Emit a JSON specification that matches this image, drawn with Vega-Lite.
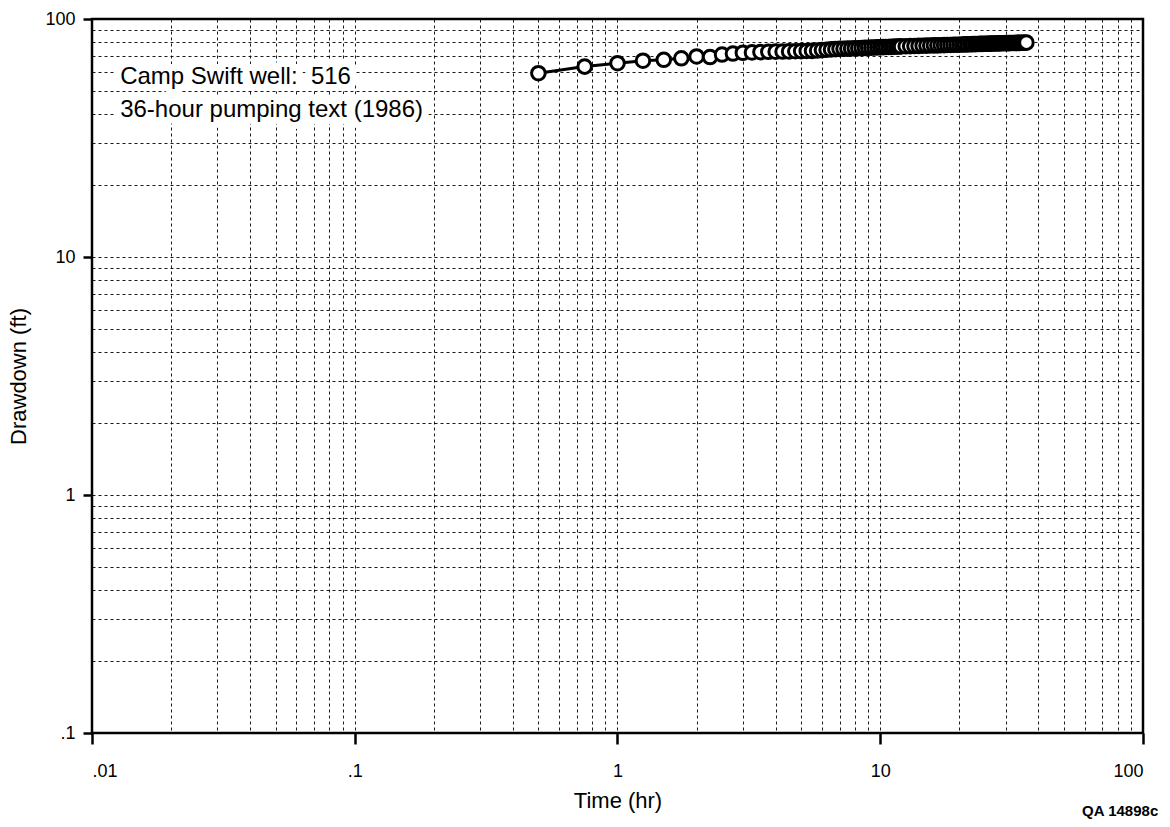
{
  "$schema": "https://vega.github.io/schema/vega-lite/v6.json",
  "width": 1051,
  "height": 714,
  "autosize": "none",
  "padding": {"left": 92, "top": 19, "right": 27, "bottom": 94},
  "background": "white",
  "config": {
    "font": "Liberation Sans",
    "view": {"stroke": "black", "strokeWidth": 2.5},
    "axis": {
      "domain": false,
      "grid": true,
      "gridColor": "black",
      "gridDash": [3, 3],
      "gridWidth": 1,
      "gridOpacity": 0.9,
      "tickColor": "black",
      "tickWidth": 2.5,
      "labelColor": "black",
      "labelFont": "Liberation Sans",
      "labelFontSize": 18,
      "labelOverlap": false,
      "titleFont": "Liberation Sans",
      "titleFontSize": 22,
      "titleFontWeight": "normal",
      "titleColor": "black"
    }
  },
  "title": {
    "text": "QA 14898c",
    "orient": "bottom",
    "anchor": "end",
    "fontSize": 15,
    "fontWeight": "bold",
    "font": "Liberation Sans",
    "color": "black",
    "offset": -7,
    "dx": 14
  },
  "datasets": {
    "pts": [
      {"t": 0.5, "d": 59.2}, {"t": 0.75, "d": 63.1}, {"t": 1.0, "d": 65.2}, {"t": 1.25, "d": 66.8},
      {"t": 1.5, "d": 67.4}, {"t": 1.75, "d": 68.4}, {"t": 2.0, "d": 69.6}, {"t": 2.25, "d": 69.2},
      {"t": 2.5, "d": 70.9}, {"t": 2.75, "d": 71.6}, {"t": 3.0, "d": 72.1}, {"t": 3.25, "d": 72.4},
      {"t": 3.5, "d": 72.6}, {"t": 3.75, "d": 72.8}, {"t": 4.0, "d": 72.9}, {"t": 4.25, "d": 73.0},
      {"t": 4.5, "d": 73.1}, {"t": 4.75, "d": 73.2}, {"t": 5.0, "d": 73.3}, {"t": 5.25, "d": 73.4},
      {"t": 5.5, "d": 73.5}, {"t": 5.75, "d": 73.7}, {"t": 6.0, "d": 74.0}, {"t": 6.25, "d": 74.3},
      {"t": 6.5, "d": 74.5}, {"t": 6.75, "d": 74.7}, {"t": 7.0, "d": 74.9}, {"t": 7.25, "d": 75.0},
      {"t": 7.5, "d": 75.1}, {"t": 7.75, "d": 75.2}, {"t": 8.0, "d": 75.3}, {"t": 8.25, "d": 75.4},
      {"t": 8.5, "d": 75.5}, {"t": 8.75, "d": 75.6}, {"t": 9.0, "d": 75.7}, {"t": 9.25, "d": 75.8},
      {"t": 9.5, "d": 75.9}, {"t": 9.75, "d": 76.0}, {"t": 10.0, "d": 76.1}, {"t": 10.25, "d": 76.2},
      {"t": 10.5, "d": 76.3}, {"t": 10.75, "d": 76.3}, {"t": 11.0, "d": 76.4}, {"t": 11.25, "d": 76.5},
      {"t": 11.5, "d": 76.6}, {"t": 11.75, "d": 76.6}, {"t": 12.0, "d": 76.7}, {"t": 12.5, "d": 76.8},
      {"t": 13.0, "d": 76.9}, {"t": 13.5, "d": 77.0}, {"t": 14.0, "d": 77.1}, {"t": 14.5, "d": 77.2},
      {"t": 15.0, "d": 77.3}, {"t": 15.5, "d": 77.4}, {"t": 16.0, "d": 77.5}, {"t": 16.5, "d": 77.5},
      {"t": 17.0, "d": 77.6}, {"t": 17.5, "d": 77.7}, {"t": 18.0, "d": 77.8}, {"t": 18.5, "d": 77.8},
      {"t": 19.0, "d": 77.9}, {"t": 19.5, "d": 78.0}, {"t": 20.0, "d": 78.0}, {"t": 20.5, "d": 78.1},
      {"t": 21.0, "d": 78.2}, {"t": 21.5, "d": 78.2}, {"t": 22.0, "d": 78.3}, {"t": 22.5, "d": 78.4},
      {"t": 23.0, "d": 78.4}, {"t": 23.5, "d": 78.5}, {"t": 24.0, "d": 78.6}, {"t": 24.5, "d": 78.6},
      {"t": 25.0, "d": 78.7}, {"t": 25.5, "d": 78.7}, {"t": 26.0, "d": 78.8}, {"t": 26.5, "d": 78.8},
      {"t": 27.0, "d": 78.9}, {"t": 27.5, "d": 78.9}, {"t": 28.0, "d": 79.0}, {"t": 28.5, "d": 79.0},
      {"t": 29.0, "d": 79.1}, {"t": 29.5, "d": 79.1}, {"t": 30.0, "d": 79.2}, {"t": 30.5, "d": 79.2},
      {"t": 31.0, "d": 79.2}, {"t": 31.5, "d": 79.3}, {"t": 32.0, "d": 79.3}, {"t": 32.5, "d": 79.3},
      {"t": 33.0, "d": 79.4}, {"t": 33.5, "d": 79.4}, {"t": 34.0, "d": 79.4}, {"t": 34.5, "d": 79.5},
      {"t": 35.0, "d": 79.5}, {"t": 35.5, "d": 79.5}, {"t": 36.0, "d": 79.6}
    ],
    "notes": [
      {"t": 0.0128, "d": 57.0, "label": "Camp Swift well:\u00a0 516"},
      {"t": 0.0128, "d": 41.5, "label": "36-hour pumping text (1986)"}
    ]
  },
  "layer": [
    {
      "data": {"name": "pts"},
      "mark": {"type": "line", "color": "black", "strokeWidth": 3, "clip": true},
      "encoding": {
        "x": {
          "field": "t", "type": "quantitative", "title": "Time (hr)",
          "scale": {"type": "log", "domain": [0.01, 100], "nice": false},
          "axis": {
            "values": [0.01,0.02,0.03,0.04,0.05,0.06,0.07,0.08,0.09,0.1,0.2,0.3,0.4,0.5,0.6,0.7,0.8,0.9,1,2,3,4,5,6,7,8,9,10,20,30,40,50,60,70,80,90,100],
            "labelExpr": "abs(log(datum.value)/LN10 - round(log(datum.value)/LN10)) < 0.001 ? replace(format(datum.value, '~g'), '0.', '.') : ''",
            "tickSize": 11,
            "tickOpacity": {"condition": {"test": "abs(log(datum.value)/LN10 - round(log(datum.value)/LN10)) < 0.001", "value": 1}, "value": 0},
            "labelPadding": 18,
            "titlePadding": 10
          }
        },
        "y": {
          "field": "d", "type": "quantitative", "title": "Drawdown (ft)",
          "scale": {"type": "log", "domain": [0.1, 100], "nice": false},
          "axis": {
            "values": [0.1,0.2,0.3,0.4,0.5,0.6,0.7,0.8,0.9,1,2,3,4,5,6,7,8,9,10,20,30,40,50,60,70,80,90,100],
            "labelExpr": "abs(log(datum.value)/LN10 - round(log(datum.value)/LN10)) < 0.001 ? replace(format(datum.value, '~g'), '0.', '.') : ''",
            "tickSize": 9,
            "tickOpacity": {"condition": {"test": "abs(log(datum.value)/LN10 - round(log(datum.value)/LN10)) < 0.001", "value": 1}, "value": 0},
            "labelPadding": 8,
            "titlePadding": 14
          }
        }
      }
    },
    {
      "data": {"name": "pts"},
      "mark": {"type": "point", "shape": "circle", "filled": false, "fill": "white", "fillOpacity": 1, "stroke": "black", "strokeWidth": 3, "size": 185, "opacity": 1},
      "encoding": {
        "x": {"field": "t", "type": "quantitative"},
        "y": {"field": "d", "type": "quantitative"}
      }
    },
    {
      "data": {"name": "notes"},
      "mark": {"type": "text", "align": "left", "baseline": "middle", "fontSize": 24, "font": "Liberation Sans", "stroke": "white", "strokeWidth": 14, "strokeJoin": "round", "fill": "white"},
      "encoding": {
        "x": {"field": "t", "type": "quantitative"},
        "y": {"field": "d", "type": "quantitative"},
        "text": {"field": "label"}
      }
    },
    {
      "data": {"name": "notes"},
      "mark": {"type": "text", "align": "left", "baseline": "middle", "fontSize": 24, "font": "Liberation Sans", "fill": "black"},
      "encoding": {
        "x": {"field": "t", "type": "quantitative"},
        "y": {"field": "d", "type": "quantitative"},
        "text": {"field": "label"}
      }
    }
  ]
}
